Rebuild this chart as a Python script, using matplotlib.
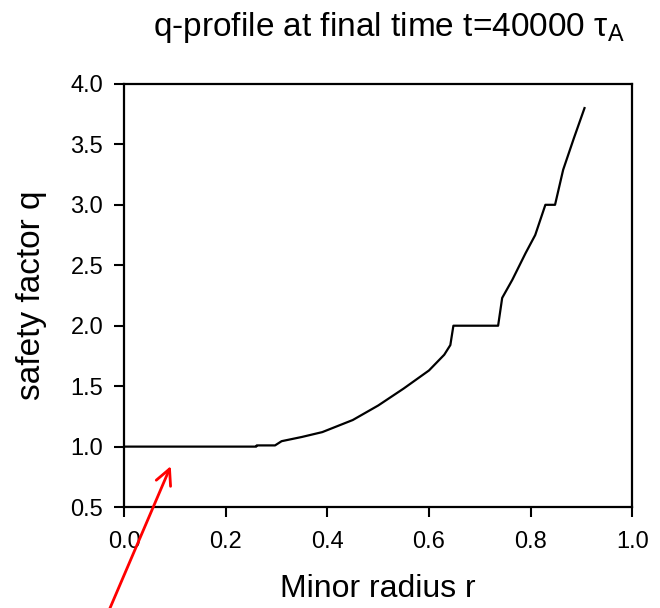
import matplotlib.pyplot as plt

plt.rcParams['font.family'] = ['Liberation Sans', 'DejaVu Sans']
plt.rcParams['mathtext.fontset'] = 'custom'
plt.rcParams['mathtext.rm'] = 'Liberation Sans'
plt.rcParams['mathtext.it'] = 'Liberation Sans'

# q-profile
r = [0.0, 0.10, 0.20, 0.26, 0.261, 0.297, 0.31, 0.35, 0.39, 0.45, 0.50, 0.55,
     0.60, 0.63, 0.642, 0.648, 0.70, 0.736, 0.744, 0.764, 0.79, 0.809, 0.829,
     0.848, 0.864, 0.885, 0.906]
q = [1.0, 1.0, 1.0, 1.0, 1.01, 1.01, 1.045, 1.08, 1.12, 1.22, 1.34, 1.48,
     1.63, 1.76, 1.84, 2.0, 2.0, 2.0, 2.23, 2.38, 2.60, 2.75, 3.0,
     3.0, 3.29, 3.55, 3.80]

xticks = [0.0, 0.2, 0.4, 0.6, 0.8, 1.0]
yticks = [0.5, 1.0, 1.5, 2.0, 2.5, 3.0, 3.5, 4.0]

fig = plt.figure(figsize=(6.6, 6.08), dpi=100)
ax = fig.add_axes([0.188, 0.166, 0.770, 0.696])

ax.plot(r, q, color='black', linewidth=1.6)

ax.set_xlim(0, 1.0)
ax.set_ylim(0.5, 4.0)
ax.set_xticks(xticks)
ax.set_yticks(yticks)
ax.set_xticklabels([f"{v:.1f}" for v in xticks])
ax.set_yticklabels([f"{v:.1f}" for v in yticks])
ax.tick_params(direction='out', length=7, width=1.5, labelsize=17, pad=8)
ax.tick_params(axis='x', pad=10)
for s in ax.spines.values():
    s.set_linewidth(1.6)

ax.set_xlabel("Minor radius r", fontsize=23, labelpad=15)
ax.set_ylabel("safety factor q", fontsize=24, labelpad=17)
fig.text(0.589, 0.955, "q-profile at final time t=40000 τ$_\\mathrm{A}$",
         fontsize=24, ha='center', va='center')

# red arrow coming from below the figure
ax.annotate("", xy=(0.094, 0.86), xycoords='data',
            xytext=(0.162, -0.012), textcoords='figure fraction',
            arrowprops=dict(arrowstyle='->', color='red', lw=2,
                            mutation_scale=28))

fig.savefig("out.png", dpi=100)
